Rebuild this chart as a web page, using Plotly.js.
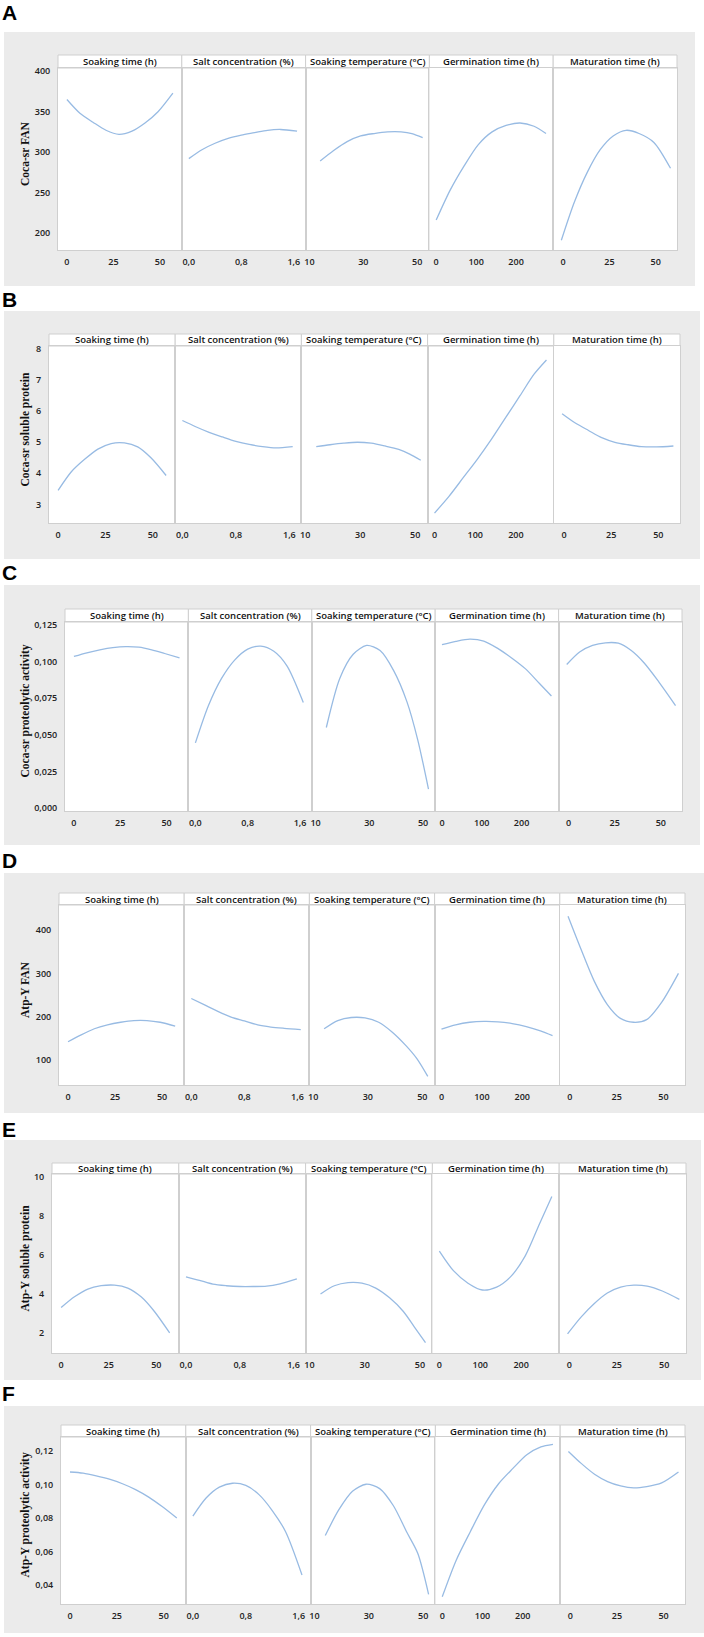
<!DOCTYPE html>
<html>
<head>
<meta charset="utf-8">
<script src="https://cdn.plot.ly/plotly-3.0.1.min.js"></script>
<style>
html, body { margin: 0; padding: 0; background: #fff; }
#chart { width: 704px; height: 1637px; }
</style>
</head>
<body>
<div id="chart"></div>
<script>
// factors (columns)
var factors = ['Soaking time (h)', 'Salt concentration (%)', 'Soaking temperature (°C)', 'Germination time (h)', 'Maturation time (h)'];
var soakX = [0, 7, 14, 21, 28, 35, 42, 49, 57];
var saltX = [0, 0.2, 0.4, 0.6, 0.8, 1.0, 1.2, 1.4, 1.65];
var tempX = [14, 19, 24, 29, 34, 39, 44, 48, 52];
var germX = [0, 35, 70, 105, 140, 175, 210, 245, 275];
var matX = [-1, 6, 13, 20, 27, 34, 41, 49, 58];
var factorTicks = [[0, 25, 50], [0, 0.8, 1.6], [10, 30, 50], [0, 100, 200], [0, 25, 50]];
var factorFormats = ['d', '.1f', 'd', 'd', 'd'];

// responses (rows)
var panelLetters = ['A', 'B', 'C', 'D', 'E', 'F'];
var responses = ['Coca-sr FAN', 'Coca-sr soluble protein', 'Coca-sr proteolytic activity',
                 'Atp-Y FAN', 'Atp-Y soluble protein', 'Atp-Y proteolytic activity'];

// fitted means, one array per factor: soak, salt, temp, germ, mat
var cocaFan = [
  [365, 348, 337, 327, 322, 326, 336, 350, 373],
  [292, 303, 311, 317, 321, 324, 327, 328, 326],
  [289, 302, 313, 320, 323, 325, 325, 323, 318],
  [216, 253, 283, 309, 325, 333, 336, 332, 323],
  [191, 238, 275, 303, 320, 327, 323, 312, 280]
];
var cocaProtein = [
  [3.45, 4.05, 4.45, 4.78, 4.96, 4.98, 4.85, 4.5, 3.93],
  [5.7, 5.5, 5.32, 5.17, 5.03, 4.93, 4.86, 4.82, 4.86],
  [4.86, 4.92, 4.97, 5.0, 4.97, 4.88, 4.77, 4.62, 4.42],
  [2.72, 3.25, 3.85, 4.45, 5.1, 5.8, 6.5, 7.2, 7.65],
  [5.92, 5.62, 5.38, 5.15, 5.0, 4.92, 4.86, 4.85, 4.88]
];
var cocaActivity = [
  [0.1035, 0.106, 0.108, 0.1095, 0.1102, 0.1098, 0.108, 0.1055, 0.1025],
  [0.0445, 0.07, 0.0885, 0.101, 0.1085, 0.1105, 0.107, 0.097, 0.072],
  [0.055, 0.0885, 0.105, 0.111, 0.1075, 0.094, 0.0725, 0.0466, 0.013],
  [0.1115, 0.1138, 0.1153, 0.114, 0.109, 0.1025, 0.095, 0.085, 0.0765],
  [0.098, 0.1065, 0.111, 0.1128, 0.1125, 0.1075, 0.099, 0.086, 0.070]
];
var atpFan = [
  [142, 158, 172, 181, 187, 191, 191, 187, 178],
  [242, 227, 212, 199, 190, 181, 176, 173, 170],
  [172, 191, 198, 197, 187, 164, 133, 103, 62],
  [171, 181, 187, 189, 188, 184, 177, 167, 156],
  [432, 355, 282, 228, 196, 187, 193, 233, 300]
];
var atpProtein = [
  [3.3, 3.85, 4.25, 4.42, 4.45, 4.3, 3.85, 3.1, 2.0],
  [4.88, 4.7, 4.5, 4.42, 4.38, 4.38, 4.4, 4.52, 4.77],
  [4.0, 4.42, 4.58, 4.55, 4.3, 3.8, 3.1, 2.3, 1.5],
  [6.2, 5.18, 4.55, 4.2, 4.35, 4.9, 5.95, 7.6, 9.0],
  [1.95, 2.8, 3.5, 4.05, 4.35, 4.45, 4.4, 4.15, 3.72]
];
var atpActivity = [
  [0.1075, 0.1068, 0.1052, 0.1032, 0.1005, 0.097, 0.0925, 0.087, 0.080],
  [0.0812, 0.092, 0.0985, 0.1008, 0.0995, 0.094, 0.0845, 0.072, 0.046],
  [0.0696, 0.085, 0.096, 0.1002, 0.0976, 0.0875, 0.0715, 0.059, 0.0345],
  [0.033, 0.055, 0.072, 0.088, 0.1005, 0.1095, 0.1178, 0.1225, 0.124],
  [0.1198, 0.1125, 0.1062, 0.1018, 0.0992, 0.098, 0.0988, 0.101, 0.1075]
];

var yTicks = [
  [200, 250, 300, 350, 400],
  [3, 4, 5, 6, 7, 8],
  [0, 0.025, 0.05, 0.075, 0.1, 0.125],
  [100, 200, 300, 400],
  [2, 4, 6, 8, 10],
  [0.04, 0.06, 0.08, 0.1, 0.12]
];
var yFormats = ['d', 'd', '.3f', 'd', 'd', '.2f'];

// layout geometry (pixels) and axis ranges
var W = 704, H = 1637;
var factorX = [soakX, saltX, tempX, germX, matX];
var factorRange = [[-4.8, 61.8], [-0.107, 1.78], [8.6, 54.5], [-17, 293], [-5.4, 61.5]];
var rowValues = [cocaFan, cocaProtein, cocaActivity, atpFan, atpProtein, atpActivity];
var yRanges = [[179, 404], [2.4, 8.1], [-0.002, 0.127], [42, 458], [0.97, 10.15], [0.0287, 0.1284]];
var rows = [
  {gray: [4, 695, 32, 286], letter: 12.5, head: 55, top: 68, bottom: 250, left: 58, right: 677},
  {gray: [4, 700, 311, 559], letter: 299.5, head: 334, top: 346, bottom: 523, left: 49, right: 680},
  {gray: [4, 700, 585, 845], letter: 572, head: 609, top: 622, bottom: 811, left: 65, right: 682},
  {gray: [4, 704, 873, 1113], letter: 860.5, head: 893, top: 905, bottom: 1085, left: 59, right: 685},
  {gray: [4, 701, 1140, 1380], letter: 1129.5, head: 1163, top: 1174, bottom: 1353, left: 52, right: 686},
  {gray: [4, 704, 1406, 1633], letter: 1393.5, head: 1425, top: 1437, bottom: 1604, left: 61, right: 685}
];

function px(x) { return x / W; }
function py(y) { return 1 - y / H; }

var lineColor = '#98bbe3';
var borderColor = '#cfcfcf';
var tickFont = {family: 'Open Sans', size: 9, color: '#222', weight: 600};

var data = [];
var shapes = [];
var annotations = [];
var layout = {
  width: W, height: H,
  margin: {l: 0, r: 0, t: 0, b: 0},
  paper_bgcolor: '#fff',
  plot_bgcolor: '#fff',
  showlegend: false,
  separators: ',.',
  font: {family: 'Open Sans', size: 9, color: '#222'}
};

rows.forEach(function (g, r) {
  // gray backdrop of each figure part
  shapes.push({type: 'rect', xref: 'paper', yref: 'paper', layer: 'below',
    x0: px(g.gray[0]), x1: px(g.gray[1]), y0: py(g.gray[3]), y1: py(g.gray[2]),
    fillcolor: '#ebebeb', line: {width: 0}});
  annotations.push({xref: 'paper', yref: 'paper', x: 0, y: py(g.letter), xanchor: 'left', yanchor: 'middle',
    text: panelLetters[r], showarrow: false,
    font: {family: 'Liberation Sans', size: 21, color: '#000', weight: 700}});
  annotations.push({xref: 'paper', yref: 'paper', x: px(25), y: py((g.top + g.bottom) / 2 - 5),
    xanchor: 'center', yanchor: 'middle', textangle: -90, text: responses[r], showarrow: false,
    font: {family: 'Liberation Serif', size: 11.5, color: '#111', weight: 700}});

  var pw = (g.right - g.left) / 5;
  for (var c = 0; c < 5; c++) {
    var idx = r * 5 + c + 1;
    var x0 = g.left + c * pw, x1 = x0 + pw;
    data.push({
      type: 'scatter', mode: 'lines',
      x: factorX[c], y: rowValues[r][c],
      xaxis: 'x' + idx, yaxis: 'y' + idx,
      line: {color: lineColor, width: 1.3, shape: 'spline', smoothing: 0.8},
      hoverinfo: 'x+y'
    });
    // white plot area over the gray backdrop
    shapes.push({type: 'rect', xref: 'paper', yref: 'paper', layer: 'below',
      x0: px(x0), x1: px(x1), y0: py(g.bottom), y1: py(g.top),
      fillcolor: '#fff', line: {width: 0}});
    // strip with factor name
    shapes.push({type: 'rect', xref: 'paper', yref: 'paper', layer: 'below',
      x0: px(x0), x1: px(x1), y0: py(g.top), y1: py(g.head),
      fillcolor: '#fff', line: {color: borderColor, width: 1}});
    annotations.push({xref: 'paper', yref: 'paper', x: px((x0 + x1) / 2), y: py((g.head + g.top) / 2),
      xanchor: 'center', yanchor: 'middle', text: factors[c], showarrow: false,
      font: {family: 'Open Sans', size: 9.5, color: '#111', weight: 600}});

    layout['xaxis' + idx] = {
      domain: [px(x0), px(x1)], anchor: 'y' + idx,
      range: factorRange[c], tickvals: factorTicks[c], tickformat: factorFormats[c],
      showgrid: false, zeroline: false, showline: true, mirror: true,
      linecolor: borderColor, linewidth: 1,
      ticks: 'outside', ticklen: 3, tickcolor: 'rgba(0,0,0,0)',
      tickfont: tickFont, fixedrange: true
    };
    layout['yaxis' + idx] = {
      domain: [py(g.bottom), py(g.top)], anchor: 'x' + idx,
      range: yRanges[r], tickvals: yTicks[r], tickformat: yFormats[r],
      showticklabels: c === 0, ticks: c === 0 ? 'outside' : '', ticklen: 5, tickcolor: 'rgba(0,0,0,0)',
      showgrid: false, zeroline: false, showline: true, mirror: true,
      linecolor: borderColor, linewidth: 1,
      tickfont: tickFont, fixedrange: true
    };
  }
});

layout.shapes = shapes;
layout.annotations = annotations;

Plotly.newPlot('chart', data, layout, {displayModeBar: false, staticPlot: true});
</script>
</body>
</html>
